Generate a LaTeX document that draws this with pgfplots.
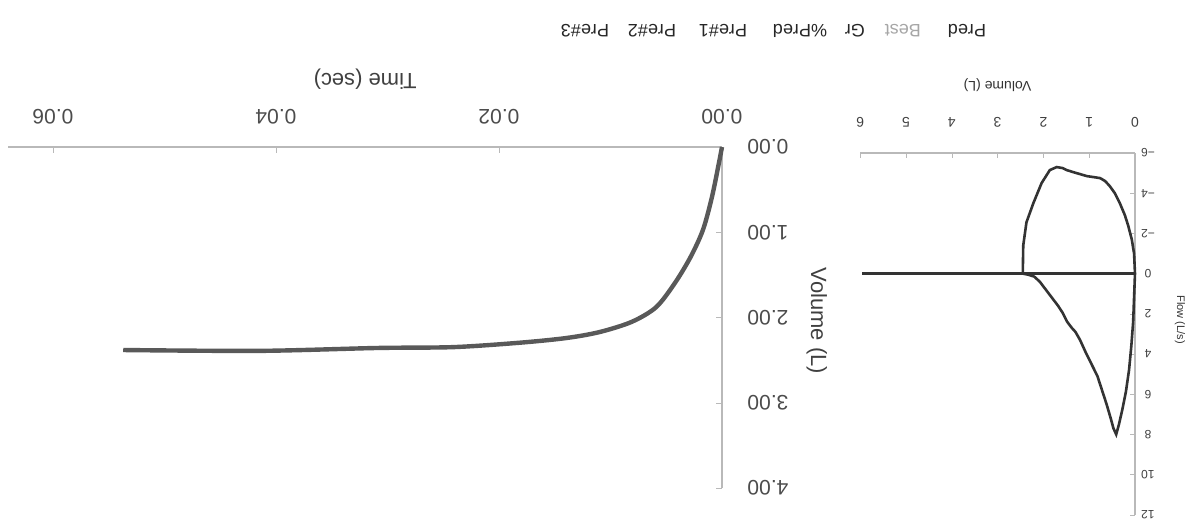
\documentclass[border=0pt]{standalone}
\usepackage{fontspec}
\setmainfont{Liberation Sans}
\usepackage{graphicx}
\usepackage{pgfplots}
\pgfplotsset{compat=1.18}

% the scanned report is upside down, so the whole picture is turned by 180 degrees
\begin{document}
\rotatebox{180}{%
\begin{tikzpicture}[x=0.5pt,y=0.5pt]
\path[use as bounding box] (0,0) rectangle (1196,521);

% flow-volume loop
\begin{axis}[
    at={(30.5pt,76.5pt)}, anchor=south west,
    scale only axis, width=137.4pt, height=180.9pt,
    xmin=0, xmax=6, ymin=-6, ymax=12,
    axis x line*=bottom, axis y line*=left,
    axis line style={gray!55, line width=0.6pt},
    tick style={gray!55}, major tick length=2.5pt,
    xtick={0,1,2,3,4,5,6}, xticklabels={0,1,2,3,4,5,6},
    ytick={-6,-4,-2,0,2,4,6,8,10,12},
    yticklabels={−6,−4,−2,0,2,4,6,8,10,12},
    xticklabel style={anchor=center, yshift=-15.5pt, font=\fontsize{7}{8}\selectfont, text=black!75},
    yticklabel style={anchor=center, xshift=-6.5pt, font=\fontsize{6}{7}\selectfont, text=black!75},
    xlabel={Volume (L)},
    xlabel style={at={(axis description cs:0.5,-0.188)}, anchor=center, font=\fontsize{7}{8}\selectfont, text=black!80},
    ylabel={Flow (L/s)},
    ylabel style={at={(axis description cs:-0.164,0.461)}, anchor=center, font=\fontsize{5.5}{7}\selectfont, text=black!80},
    clip=false,
]
\addplot[black!80, line width=1.3pt] coordinates {
    (0,0) (0.02,1.2) (0.04,2.4) (0.08,3.6) (0.13,4.8) (0.2,5.9) (0.28,6.8)
    (0.35,7.5) (0.41,8.0) (0.47,7.7) (0.53,7.2) (0.62,6.5) (0.72,5.8)
    (0.82,5.1) (0.95,4.5) (1.08,3.9) (1.20,3.3) (1.30,2.9) (1.38,2.7)
    (1.48,2.4) (1.58,1.95) (1.68,1.6) (1.78,1.3) (1.88,1.0) (1.98,0.7)
    (2.08,0.4) (2.2,0.15) (2.32,0.06) (2.45,0)
    (2.44,-1.4) (2.37,-2.55) (2.22,-3.5) (2.04,-4.5) (1.86,-5.15)
    (1.71,-5.3) (1.58,-5.25) (1.49,-5.15) (1.35,-5.05) (1.2,-4.95)
    (1.05,-4.85) (0.9,-4.8) (0.76,-4.75) (0.65,-4.6) (0.55,-4.35)
    (0.44,-4.0) (0.33,-3.5) (0.22,-2.9) (0.15,-2.4) (0.07,-1.7)
    (0.02,-1.0) (0,0)
};
\addplot[black!80, line width=1.3pt] coordinates {(0,0) (5.96,0)};
\end{axis}

% volume-time curve
\begin{axis}[
    at={(237pt,73.5pt)}, anchor=south west,
    scale only axis, width=356.8pt, height=170.6pt,
    xmin=0, xmax=0.064, ymin=0, ymax=4,
    scaled x ticks=false, scaled y ticks=false,
    axis x line*=bottom, axis y line*=left,
    axis line style={gray!55, line width=0.6pt},
    tick style={gray!55}, major tick length=3pt,
    xtick={0,0.02,0.04,0.06}, xticklabels={0.00,0.02,0.04,0.06},
    ytick={0,1,2,3,4}, yticklabels={0.00,1.00,2.00,3.00,4.00},
    xticklabel style={anchor=center, yshift=-15pt, font=\fontsize{10.5}{12}\selectfont, text=black!70},
    yticklabel style={anchor=center, xshift=-23pt, font=\fontsize{10.5}{12}\selectfont, text=black!70},
    xlabel={Time (sec)},
    xlabel style={at={(axis description cs:0.5,-0.2)}, anchor=center, font=\fontsize{11}{13}\selectfont, text=black!75},
    ylabel={Volume (L)},
    ylabel style={at={(axis description cs:-0.133,0.51)}, anchor=center, font=\fontsize{11}{13}\selectfont, text=black!75},
    clip=false,
]
\addplot[black!65, line width=2.2pt, smooth] coordinates {
    (0,0) (0.00027,0.184) (0.0009,0.586) (0.0017,0.969) (0.0028,1.285)
    (0.0042,1.59) (0.0059,1.877) (0.0081,2.05) (0.011,2.17) (0.014,2.24)
    (0.0182,2.295) (0.0241,2.346) (0.0309,2.356) (0.0415,2.39) (0.0537,2.38)
};
\end{axis}

% column heads of the table below the charts
\begin{scope}[font=\fontsize{9}{10}\selectfont]
\node[text=black!85] at (229,31) {Pred};
\node[text=black!35] at (293,31) {Best};
\node[text=black!85] at (341,31) {Gr};
\node[text=black!85] at (396,31) {\%Pred};
\node[text=black!85] at (473,31) {Pre\#1};
\node[text=black!85] at (544,31) {Pre\#2};
\node[text=black!85] at (611,31) {Pre\#3};
\end{scope}
\end{tikzpicture}}
\end{document}
